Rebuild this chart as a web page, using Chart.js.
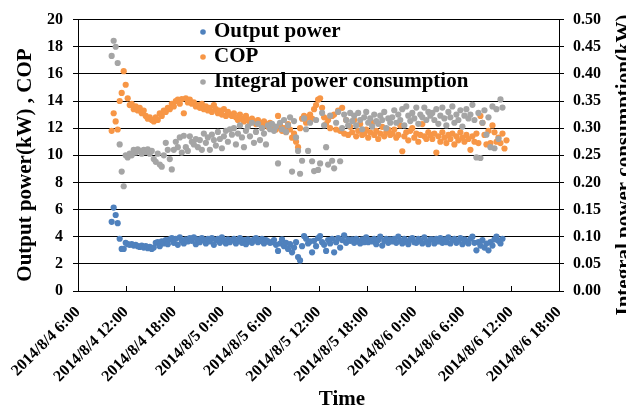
<!DOCTYPE html>
<html>
<head>
<meta charset="utf-8">
<script src="https://cdn.jsdelivr.net/npm/chart.js@4.4.1/dist/chart.umd.min.js"></script>
<style>
    html, body { margin: 0; padding: 0; background: #fff; }
    #chart { display: block; }
</style>
</head>
<body>
<canvas id="chart" width="626" height="411"></canvas>
<script>
// Readings start 2014/8/4 10:12 and are logged every 15 minutes.
// Time is kept as hours after 2014/8/4 6:00 (the left end of the axis).
const firstSampleHour = 4.2;
const sampleStepHours = 0.25;

const tickLabels = [
    '2014/8/4 6:00', '2014/8/4 12:00', '2014/8/4 18:00',
    '2014/8/5 0:00', '2014/8/5 6:00', '2014/8/5 12:00', '2014/8/5 18:00',
    '2014/8/6 0:00', '2014/8/6 6:00', '2014/8/6 12:00', '2014/8/6 18:00'
];

// Output power (kW)
const outputPower = [
    5.1, 6.15, 5.6, 5.0, 3.85, 3.1, 3.1, 3.55, 3.45, 3.4, 3.45, 3.35, 3.4, 3.3, 3.25, 3.35, 3.2, 3.3, 3.15, 3.25,
    3.1, 3.2, 3.55, 3.6, 3.3, 3.65, 3.5, 3.75, 3.45, 3.8, 3.9, 3.55, 3.85, 3.4, 3.95, 3.7, 3.5, 3.8, 3.65, 3.9,
    3.7, 3.95, 3.45, 3.8, 3.6, 3.9, 3.75, 3.5, 3.85, 3.65, 3.9, 3.4, 3.75, 3.85, 3.55, 3.95, 3.7, 3.5, 3.8, 3.6,
    3.75, 3.85, 3.5, 3.7, 3.9, 3.55, 3.75, 3.45, 3.8, 3.65, 3.55, 3.8, 3.9, 3.6, 3.7, 3.85, 3.5, 3.75, 3.65, 3.55,
    3.6, 3.75, 3.4, 2.95, 3.5, 3.8, 3.3, 3.55, 3.1, 3.45, 2.85, 3.2, 3.6, 2.5, 2.25, 3.3, 4.05, 3.85, 3.5, 3.65,
    2.85, 3.7, 3.3, 3.9, 4.05, 3.6, 3.4, 2.95, 3.75, 3.5, 3.85, 2.85, 3.6, 3.9, 3.2, 3.75, 4.1, 3.55, 3.8, 3.7,
    3.8, 3.55, 3.85, 3.65, 3.5, 3.8, 3.6, 3.95, 3.6, 3.75, 3.65, 3.85, 3.45, 3.75, 4.0, 3.35, 3.7, 3.85, 3.55, 3.8,
    3.65, 3.85, 3.55, 4.0, 3.7, 3.5, 3.85, 3.65, 3.45, 3.8, 3.9, 3.6, 3.55, 3.85, 3.7, 3.5, 3.95, 3.65, 3.45, 3.8,
    3.8, 3.5, 3.85, 3.65, 3.9, 3.55, 3.8, 3.6, 3.95, 3.5, 3.75, 3.85, 3.55, 3.7, 3.9, 3.45, 3.8, 3.65, 3.5, 3.85,
    4.0, 3.55, 3.0, 3.6, 3.35, 3.75, 3.2, 3.5, 3.0, 3.6, 3.35, 3.8, 4.0, 3.7, 3.5, 3.85, null, null
];

// COP (-)
const cop = [
    11.8, 13.1, 12.5, 11.9, 14.0, 14.6, 16.2, 15.2, 14.2, 13.7, 13.8, 13.4, 13.6, 13.3, 13.5, 13.1, 13.3, 12.9, 12.7, 12.8,
    12.6, 12.5, 12.8, 12.6, 13.1, 12.9, 13.3, 13.2, 13.5, 13.4, 13.8, 13.6, 14.0, 14.1, 13.8, 14.15, 13.1, 14.2, 13.9, 14.1,
    13.8, 13.9, 13.6, 13.7, 13.5, 13.8, 13.4, 13.6, 13.3, 13.5, 13.2, 13.7, 13.4, 13.1, 13.3, 13.0, 13.4, 12.9, 13.2, 13.0,
    12.9, 13.1, 12.8, 12.6, 13.0, 12.7, 12.5, 12.9, 12.6, 12.4, 12.7, 12.5, 12.3, 12.6, 12.4, 12.2, 12.5, 12.3, 12.1, 12.4,
    12.2, 12.0, 11.9, 12.9, 12.2, 11.8, 12.0, 11.7, 12.3, 11.9, 11.3, 11.6, 11.0, 10.6, 12.0, 12.7, 12.9, 12.4, 12.8, 13.0,
    12.7, 13.4, 13.7, 14.1, 14.2, 13.5, 12.8, 12.3, 12.6, 12.0, 12.9, 13.0, 11.9, 13.3, 11.8, 13.5, 11.6, 12.6, 11.5, 12.1,
    11.7, 12.6, 11.4, 11.8, 12.3, 11.5, 11.6, 11.9, 11.3, 11.7, 12.4, 11.5, 11.8, 11.2, 11.6, 12.1, 11.4, 11.7, 11.9, 11.5,
    11.6, 11.9, 11.3, 11.5, 12.2, 10.3, 11.4, 11.7, 11.1, 11.8, 12.0, 11.3, 11.6, 11.0, 11.5, 12.3, 11.4, 11.2, 11.7, 11.5,
    11.2, 11.6, 10.2, 11.4, 11.0, 11.7, 11.3, 10.9, 11.5, 11.2, 11.6, 10.8, 11.4, 11.1, 11.7, 11.3, 11.0, 11.5, 11.2, 10.4,
    11.4, 11.0, 11.6, 10.9, 12.9, 12.4, 11.5, 10.8, 11.8, 10.9, 12.2, 11.7, 11.0, 11.3, 10.9, 11.6, 10.5, 11.1
];

// Integral power consumption (kW), right axis
const integralPower = [
    0.433, 0.461, 0.450, 0.420, 0.270, 0.220, 0.193, 0.250, 0.246, 0.253, 0.250, 0.260, 0.255, 0.261, 0.258, 0.253, 0.260, 0.256, 0.261, 0.253,
    0.258, 0.243, 0.238, 0.253, 0.233, 0.229, 0.250, 0.273, 0.260, 0.243, 0.224, 0.260, 0.275, 0.265, 0.283, 0.255, 0.286, 0.265, 0.258, 0.285,
    0.275, 0.270, 0.280, 0.265, 0.278, 0.260, 0.290, 0.273, 0.283, 0.260, 0.288, 0.278, 0.268, 0.293, 0.280, 0.263, 0.285, 0.295, 0.275, 0.298,
    0.288, 0.300, 0.270, 0.290, 0.305, 0.283, 0.265, 0.295, 0.303, 0.285, 0.310, 0.273, 0.293, 0.308, 0.278, 0.300, 0.290, 0.270, 0.305, 0.298,
    0.308, 0.295, 0.303, 0.235, 0.310, 0.298, 0.315, 0.293, 0.305, 0.320, 0.220, 0.313, 0.283, 0.258, 0.216, 0.240, 0.318, 0.298, 0.258, 0.310,
    0.239, 0.221, 0.315, 0.223, 0.235, 0.328, 0.305, 0.265, 0.233, 0.323, 0.240, 0.226, 0.310, 0.330, 0.239, 0.300, 0.325, 0.315, 0.305, 0.328,
    0.313, 0.323, 0.305, 0.328, 0.315, 0.298, 0.320, 0.330, 0.310, 0.318, 0.303, 0.325, 0.313, 0.308, 0.323, 0.315, 0.330, 0.300, 0.318, 0.310,
    0.320, 0.333, 0.310, 0.325, 0.315, 0.335, 0.305, 0.340, 0.323, 0.313, 0.328, 0.318, 0.338, 0.308, 0.325, 0.320, 0.338, 0.315, 0.330, 0.323,
    0.328, 0.315, 0.335, 0.308, 0.323, 0.338, 0.318, 0.305, 0.330, 0.320, 0.340, 0.310, 0.325, 0.315, 0.333, 0.303, 0.323, 0.335, 0.318, 0.325,
    0.343, 0.315, 0.246, 0.328, 0.245, 0.310, 0.333, 0.288, 0.320, 0.265, 0.340, 0.263, 0.335, 0.280, 0.353, 0.338, null, null
];

const serif = "'Liberation Serif', 'Times New Roman', serif";
const colors = ['#4f81bd', '#f79646', '#a5a5a5'];

// pair every reading with its sample time, dropping empty slots
function toPoints(values) {
    return values
        .map((v, i) => ({ x: firstSampleHour + i * sampleStepHours, y: v }))
        .filter(p => p.y !== null);
}

// axis titles, legend and the inward ticks of the time axis
const decorations = {
    id: 'decorations',
    afterDraw(chart) {
        const { ctx, chartArea, scales } = chart;
        ctx.save();

        ctx.strokeStyle = '#000';
        ctx.lineWidth = 1;
        scales.x.ticks.forEach(t => {
            const px = Math.round(scales.x.getPixelForValue(t.value)) + 0.5;
            ctx.beginPath();
            ctx.moveTo(px, chartArea.bottom);
            ctx.lineTo(px, chartArea.bottom - 5);
            ctx.stroke();
        });

        ctx.fillStyle = '#000';
        ctx.font = `bold 21px ${serif}`;
        ctx.textAlign = 'center';
        ctx.textBaseline = 'middle';
        ctx.fillText('Time', 342, 400);

        ctx.save();
        ctx.translate(26, 165);
        ctx.rotate(-Math.PI / 2);
        ctx.fillText('Output power(kW) , COP', 0, 0);
        ctx.restore();

        ctx.save();
        ctx.translate(625, 165);
        ctx.rotate(-Math.PI / 2);
        ctx.fillText('Integral power consumption(kW)', 0, 0);
        ctx.restore();

        // legend inside the plot
        ctx.font = `bold 21px ${serif}`;
        ctx.textAlign = 'left';
        chart.data.datasets.forEach((ds, i) => {
            const y = 32 + i * 25;
            ctx.fillStyle = ds.backgroundColor;
            ctx.beginPath();
            ctx.arc(203, y, 2.8, 0, Math.PI * 2);
            ctx.fill();
            ctx.fillStyle = '#000';
            ctx.fillText(ds.label, 214, y);
        });

        ctx.restore();
    }
};

const tickFont = { family: serif, size: 16, weight: 'bold' };

new Chart(document.getElementById('chart'), {
    type: 'scatter',
    data: {
        datasets: [
            {
                label: 'Output power',
                data: toPoints(outputPower),
                backgroundColor: colors[0],
                yAxisID: 'y',
                order: 3
            },
            {
                label: 'COP',
                data: toPoints(cop),
                backgroundColor: colors[1],
                yAxisID: 'y',
                order: 2
            },
            {
                label: 'Integral power consumption',
                data: toPoints(integralPower),
                backgroundColor: colors[2],
                yAxisID: 'y1',
                order: 1
            }
        ]
    },
    options: {
        responsive: false,
        animation: false,
        devicePixelRatio: 1,
        layout: { padding: { top: 16, left: 0, right: 0, bottom: 0 } },
        elements: {
            point: { radius: 3.1, borderWidth: 0, hoverRadius: 3.1 }
        },
        plugins: {
            legend: { display: false },
            tooltip: { enabled: false }
        },
        scales: {
            x: {
                type: 'linear',
                min: 0,
                max: 60,
                ticks: {
                    stepSize: 6,
                    autoSkip: false,
                    minRotation: 45,
                    maxRotation: 45,
                    padding: 4,
                    color: '#000',
                    font: tickFont,
                    callback: (v, i) => tickLabels[i]
                },
                grid: { display: false },
                border: { display: true, color: '#000', width: 1 },
                afterFit: s => { s.height = 120; }
            },
            y: {
                position: 'left',
                min: 0,
                max: 20,
                ticks: { stepSize: 2, padding: 10, color: '#000', font: tickFont },
                grid: { color: '#000', lineWidth: 1, tickLength: 5 },
                border: { color: '#000', width: 1 },
                afterFit: s => { s.width = 78; }
            },
            y1: {
                position: 'right',
                min: 0,
                max: 0.5,
                ticks: {
                    stepSize: 0.05,
                    padding: 9,
                    color: '#000',
                    font: tickFont,
                    callback: v => v.toFixed(2)
                },
                grid: { drawOnChartArea: false, color: '#000', lineWidth: 1, tickLength: 5 },
                border: { color: '#000', width: 1 },
                afterFit: s => { s.width = 67; }
            }
        }
    },
    plugins: [decorations]
});
</script>
</body>
</html>
